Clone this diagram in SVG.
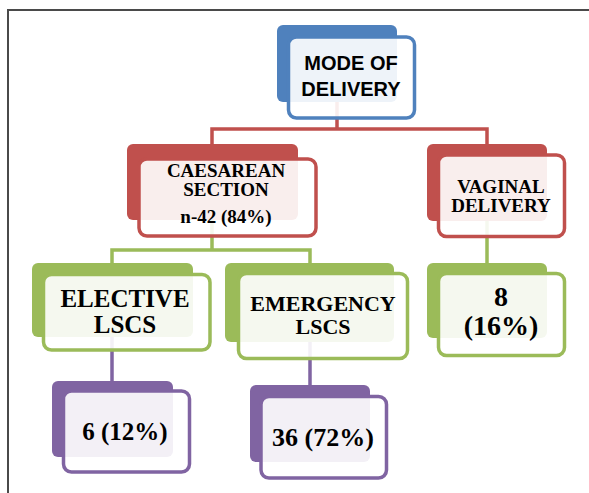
<svg xmlns="http://www.w3.org/2000/svg" width="589" height="493" viewBox="0 0 589 493">
<style>
.frame{fill:none;stroke:#4a4a4a;stroke-width:2}
.back{stroke:none}
.front{fill:#ffffff;fill-opacity:0.9;stroke-width:3.5}
.blue .back{fill:#4F81BD}.blue .front{stroke:#4F81BD}
.red .back{fill:#C0504D}.red .front{stroke:#C0504D}
.green .back{fill:#9BBB59}.green .front{stroke:#9BBB59}
.purple .back{fill:#8064A2}.purple .front{stroke:#8064A2}
.sans{font-family:"Liberation Sans",Arial,sans-serif;font-weight:bold;fill:#000;text-anchor:middle}
.serif{font-family:"Liberation Serif","Times New Roman",serif;font-weight:bold;fill:#000;text-anchor:middle}
.c{fill:none;stroke-width:3.5}
</style>
<rect x="0" y="0" width="589" height="493" fill="#ffffff"/>
<path class="frame" d="M8,493 V10 H589"/>
<g id="connectors">
<path class="c" stroke="#C0504D" d="M337,100 V129 M212,145 V129 H487 V145"/>
<path class="c" stroke="#9BBB59" d="M212,220 V250 M112,264 V250 H310 V264 M487,220 V264"/>
<path class="c" stroke="#8064A2" d="M112,337 V381 M310,341 V385"/>
</g>
<g id="mode" class="blue">
<rect class="back" x="277" y="25" width="120" height="77" rx="6"/>
<rect class="front" x="288.5" y="37" width="126" height="81" rx="8"/>
<text class="sans" x="351" y="70" font-size="20">MODE OF</text>
<text class="sans" x="351" y="96" font-size="20">DELIVERY</text>
</g>
<g id="caesarean" class="red">
<rect class="back" x="127" y="144" width="171" height="76" rx="6"/>
<rect class="front" x="139" y="159" width="177" height="77" rx="8"/>
<text class="serif" x="226" y="177" font-size="19">CAESAREAN</text>
<text class="serif" x="226" y="196" font-size="19">SECTION</text>
<text class="serif" x="226" y="223" font-size="19">n-42 (84%)</text>
</g>
<g id="vaginal" class="red">
<rect class="back" x="427" y="144" width="120" height="77" rx="6"/>
<rect class="front" x="438.5" y="155" width="126" height="81.5" rx="8"/>
<text class="serif" x="501" y="193" font-size="19">VAGINAL</text>
<text class="serif" x="501" y="212" font-size="19">DELIVERY</text>
</g>
<g id="elective" class="green">
<rect class="back" x="32" y="263" width="161" height="74" rx="6"/>
<rect class="front" x="43.5" y="274.5" width="166.5" height="75.5" rx="8"/>
<text class="serif" x="125" y="307" font-size="25">ELECTIVE</text>
<text class="serif" x="125" y="333" font-size="25">LSCS</text>
</g>
<g id="emergency" class="green">
<rect class="back" x="225" y="263" width="169" height="79" rx="6"/>
<rect class="front" x="238.5" y="273.5" width="169" height="85" rx="8"/>
<text class="serif" x="323" y="311" font-size="22">EMERGENCY</text>
<text class="serif" x="323" y="334" font-size="22">LSCS</text>
</g>
<g id="vaginal-count" class="green">
<rect class="back" x="427" y="263" width="120" height="75" rx="6"/>
<rect class="front" x="438.5" y="273.5" width="126" height="82" rx="8"/>
<text class="serif" x="501" y="306" font-size="28">8</text>
<text class="serif" x="501" y="335" font-size="28">(16%)</text>
</g>
<g id="elective-count" class="purple">
<rect class="back" x="52" y="381" width="121" height="76" rx="6"/>
<rect class="front" x="63.5" y="391" width="126" height="81" rx="8"/>
<text class="serif" x="125" y="440" font-size="25">6 (12%)</text>
</g>
<g id="emergency-count" class="purple">
<rect class="back" x="250" y="385" width="120" height="77" rx="6"/>
<rect class="front" x="261" y="396.5" width="125.5" height="81.5" rx="8"/>
<text class="serif" x="323" y="446" font-size="26">36 (72%)</text>
</g>
</svg>
